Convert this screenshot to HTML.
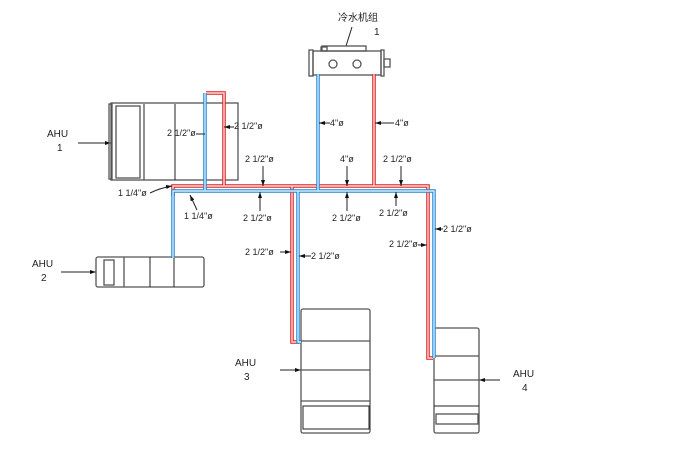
<!DOCTYPE html>
<html><head><meta charset="utf-8"><style>
html,body{margin:0;padding:0;background:#fff;}
svg{display:block;}
text{font-family:"Liberation Sans","Noto Sans CJK SC",sans-serif;font-size:9px;fill:#222;}
.b{fill:none;stroke:#555;stroke-width:1.3;}
.k{fill:none;stroke:#222;stroke-width:1;}
.r{fill:none;stroke:#e01c1c;stroke-width:3.5;}
.ri{fill:none;stroke:#fbe0e0;stroke-width:1.4;}
.u{fill:none;stroke:#1f86d6;stroke-width:3.5;}
.ui{fill:none;stroke:#d6eefb;stroke-width:1.4;}
</style></head><body>
<svg width="674" height="460" viewBox="0 0 674 460" xmlns="http://www.w3.org/2000/svg">
<defs><marker id="a" markerWidth="6" markerHeight="4" refX="6" refY="2" orient="auto"><path d="M0,0L6,2L0,4z" fill="#111"/></marker></defs>

<text x="338" y="21" style="font-size:10px">冷水机组</text>
<text x="374" y="35" style="font-size:10px">1</text>
<line x1="352" y1="27" x2="346" y2="46" class="k"/>
<rect x="322" y="46" width="44" height="5" class="b"/>
<rect x="321" y="47" width="6" height="4" class="b"/>
<rect x="313" y="51" width="68" height="24" class="b"/>
<rect x="309" y="50" width="4" height="26" class="b"/>
<rect x="381" y="50" width="3" height="26" class="b"/>
<rect x="384" y="59" width="6" height="8" class="b"/>
<circle cx="333" cy="64" r="4" class="b"/>
<circle cx="357" cy="64" r="4" class="b"/>

<text x="47" y="137" style="font-size:10px">AHU</text>
<text x="57" y="151" style="font-size:10px">1</text>
<line x1="78" y1="143" x2="111" y2="143" class="k" marker-end="url(#a)"/>
<rect x="111" y="103" width="127" height="77" class="b"/>
<rect x="109" y="104" width="3" height="75" class="b"/>
<rect x="116" y="106" width="24" height="72" class="b"/>
<line x1="144" y1="104" x2="144" y2="180" class="b"/>
<line x1="175" y1="104" x2="175" y2="180" class="k"/>

<text x="32" y="267" style="font-size:10px">AHU</text>
<text x="41" y="281" style="font-size:10px">2</text>
<line x1="61" y1="272" x2="96" y2="272" class="k" marker-end="url(#a)"/>
<rect x="96" y="257" width="108" height="30" rx="2" class="b"/>
<rect x="104" y="260" width="10" height="25" class="b"/>
<line x1="124" y1="257" x2="124" y2="287" class="b"/>
<line x1="150" y1="257" x2="150" y2="287" class="k"/>
<line x1="174" y1="257" x2="174" y2="287" class="k"/>

<text x="235" y="366" style="font-size:10px">AHU</text>
<text x="244" y="380" style="font-size:10px">3</text>
<line x1="280" y1="370" x2="301" y2="370" class="k" marker-end="url(#a)"/>
<rect x="301" y="309" width="69" height="124" rx="2" class="b"/>
<line x1="301" y1="341" x2="370" y2="341" class="b"/>
<line x1="301" y1="370" x2="370" y2="370" class="b"/>
<line x1="301" y1="401" x2="370" y2="401" class="b"/>
<rect x="303" y="406" width="66" height="23" class="k"/>

<text x="513" y="377" style="font-size:10px">AHU</text>
<text x="522" y="391" style="font-size:10px">4</text>
<line x1="500" y1="380" x2="479" y2="380" class="k" marker-end="url(#a)"/>
<rect x="434" y="328" width="45" height="105" rx="2" class="b"/>
<line x1="434" y1="356" x2="479" y2="356" class="b"/>
<line x1="434" y1="380" x2="479" y2="380" class="b"/>
<line x1="434" y1="406" x2="479" y2="406" class="k"/>
<rect x="436" y="414" width="42" height="10" class="b"/>

<g>
<path d="M224,186 V93 H206 M374,74 V186 M173,196 V186 H428 V358 H433 M292,186 V342 H299" class="r"/>
<path d="M224,186 V93 H206 M374,74 V186 M173,196 V186 H428 V358 H433 M292,186 V342 H299" class="ri"/>
</g>
<g>
<path d="M205,93 V191 M318,74 V191 M173,258 V191 H434 V358 M298,191 V342 H301" class="u"/>
<path d="M205,93 V191 M318,74 V191 M173,258 V191 H434 V358 M298,191 V342 H301" class="ui"/>
</g>

<text x="167" y="136">2 1/2"ø</text>
<line x1="196" y1="134" x2="205" y2="134" class="k"/>
<text x="234" y="129">2 1/2"ø</text>
<line x1="234" y1="127" x2="224" y2="127" class="k" marker-end="url(#a)"/>
<text x="245" y="162">2 1/2"ø</text>
<line x1="263" y1="166" x2="263" y2="186" class="k" marker-end="url(#a)"/>
<text x="118" y="196">1 1/4"ø</text>
<path d="M150,193 Q160,188 172,186" class="k" marker-end="url(#a)"/>
<text x="184" y="219">1 1/4"ø</text>
<line x1="197" y1="210" x2="190" y2="195" class="k" marker-end="url(#a)"/>
<text x="243" y="221">2 1/2"ø</text>
<line x1="260" y1="211" x2="260" y2="192" class="k" marker-end="url(#a)"/>
<text x="330" y="126">4"ø</text>
<line x1="330" y1="123" x2="319" y2="123" class="k" marker-end="url(#a)"/>
<text x="395" y="126">4"ø</text>
<line x1="394" y1="123" x2="375" y2="123" class="k" marker-end="url(#a)"/>
<text x="340" y="162">4"ø</text>
<line x1="347" y1="166" x2="347" y2="186" class="k" marker-end="url(#a)"/>
<text x="332" y="221">2 1/2"ø</text>
<line x1="347" y1="211" x2="347" y2="192" class="k" marker-end="url(#a)"/>
<text x="383" y="162">2 1/2"ø</text>
<line x1="401" y1="166" x2="401" y2="186" class="k" marker-end="url(#a)"/>
<text x="379" y="216">2 1/2"ø</text>
<line x1="396" y1="206" x2="396" y2="192" class="k" marker-end="url(#a)"/>
<text x="245" y="255">2 1/2"ø</text>
<line x1="280" y1="252" x2="291" y2="252" class="k" marker-end="url(#a)"/>
<text x="311" y="259">2 1/2"ø</text>
<line x1="311" y1="256" x2="299" y2="256" class="k" marker-end="url(#a)"/>
<text x="389" y="247">2 1/2"ø</text>
<line x1="418" y1="245" x2="427" y2="245" class="k" marker-end="url(#a)"/>
<text x="443" y="232">2 1/2"ø</text>
<line x1="443" y1="229" x2="435" y2="229" class="k" marker-end="url(#a)"/>
</svg>
</body></html>
